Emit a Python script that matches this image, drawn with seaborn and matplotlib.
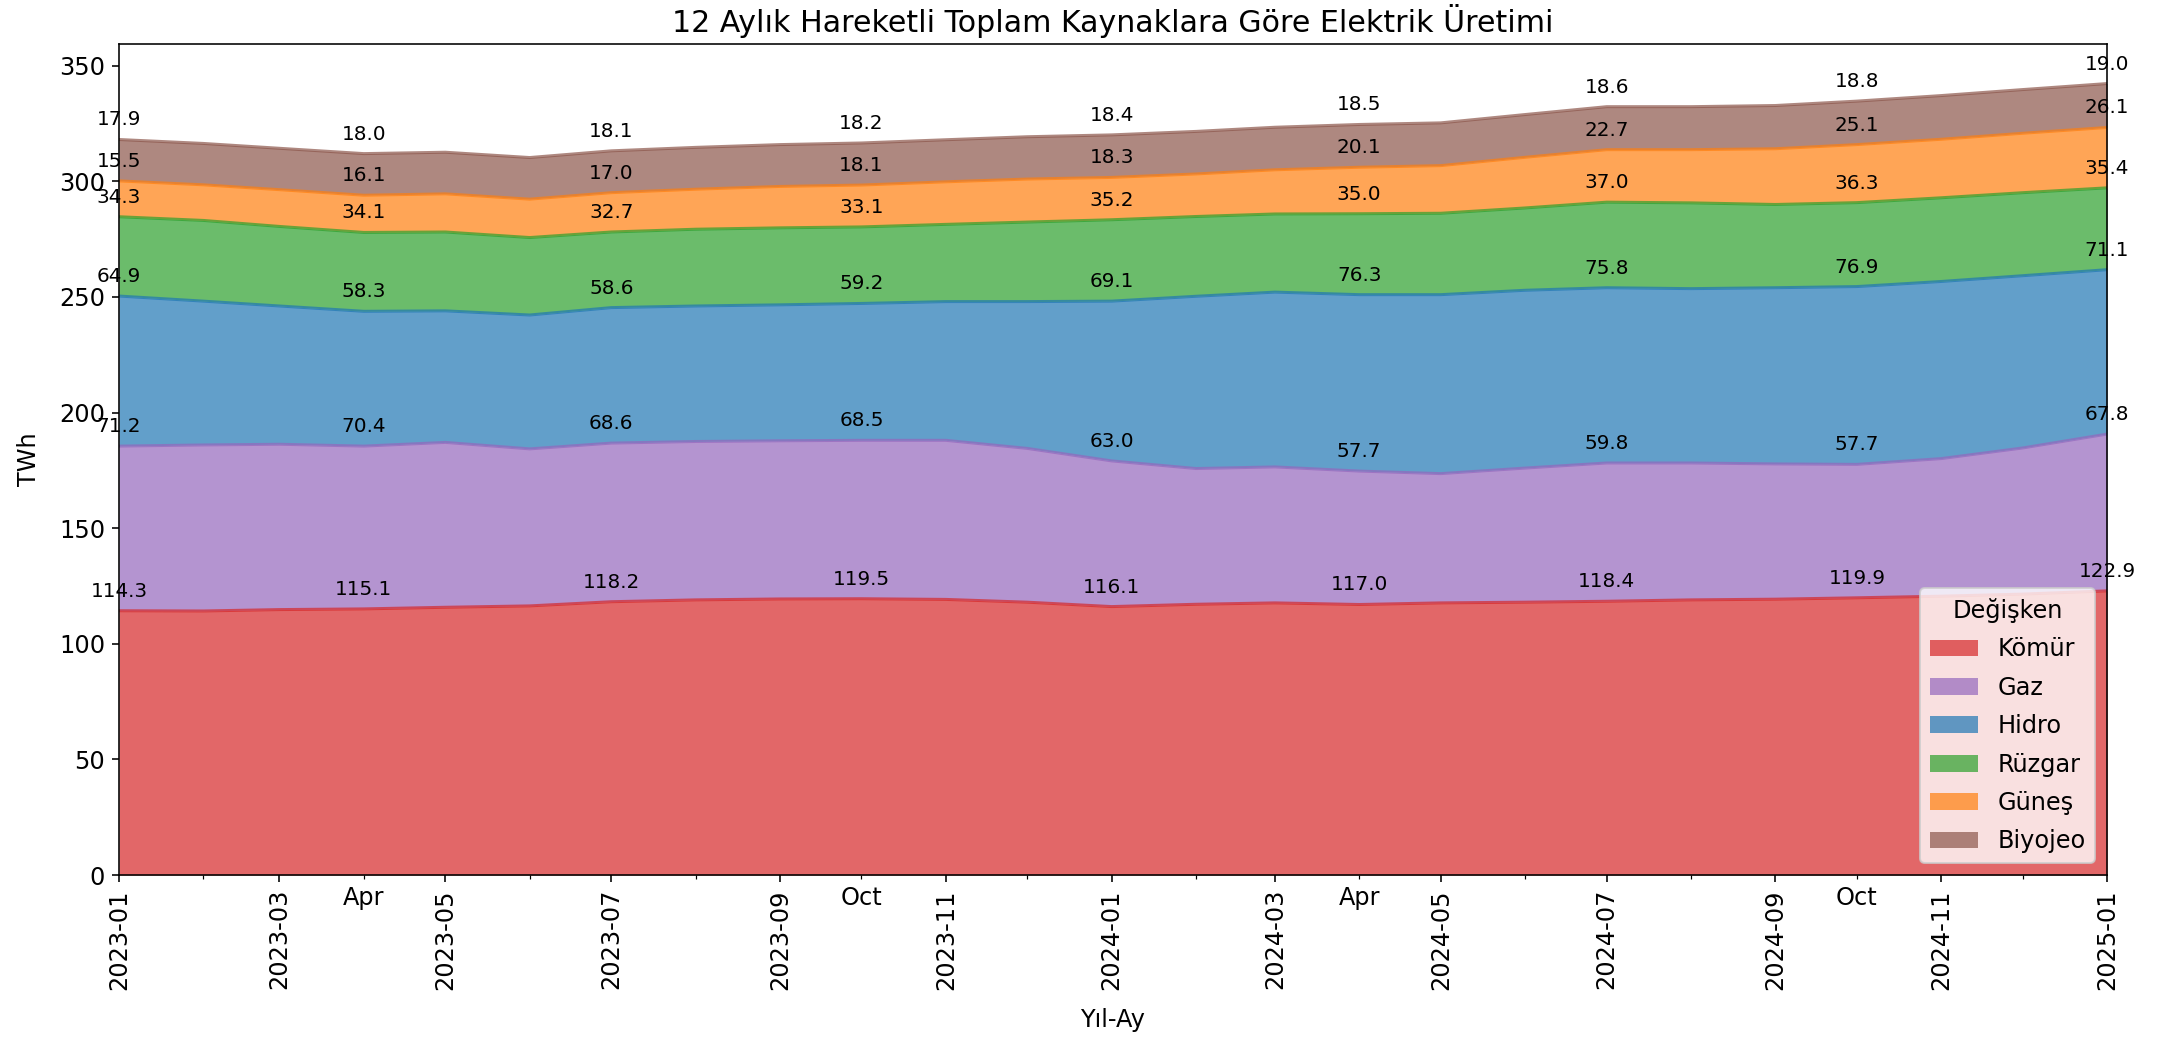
import matplotlib
matplotlib.use("Agg")
import matplotlib.pyplot as plt
import matplotlib.dates as mdates
from matplotlib.ticker import FuncFormatter
import seaborn as sns
import numpy as np
import pandas as pd

# monthly 12-month rolling totals, TWh (2023-01 .. 2025-01)
months = pd.date_range("2023-01-01", "2025-01-01", freq="MS")

komur = [114.3, 114.2, 114.8, 115.1, 115.8, 116.4, 118.2, 119.0, 119.4, 119.5, 119.2, 118.0, 116.1,
         117.1, 117.7, 117.0, 117.7, 118.0, 118.4, 119.0, 119.3, 119.9, 120.6, 121.5, 122.9]
gaz = [71.2, 71.8, 71.5, 70.4, 71.3, 67.9, 68.6, 68.5, 68.4, 68.5, 68.8, 66.5, 63.0,
       58.7, 58.8, 57.7, 55.9, 58.0, 59.8, 59.2, 58.5, 57.7, 59.5, 63.2, 67.8]
hidro = [64.9, 62.2, 59.8, 58.3, 56.9, 57.9, 58.6, 58.6, 58.8, 59.2, 60.0, 63.5, 69.1,
         74.5, 75.6, 76.3, 77.4, 76.9, 75.8, 75.4, 76.2, 76.9, 76.6, 74.5, 71.1]
ruzgar = [34.3, 34.9, 34.4, 34.1, 34.1, 33.5, 32.7, 33.2, 33.3, 33.1, 33.4, 34.4, 35.2,
          34.5, 33.8, 35.0, 35.2, 35.6, 37.0, 37.1, 36.0, 36.3, 36.2, 35.9, 35.4]
gunes = [15.5, 15.4, 15.9, 16.1, 16.5, 16.6, 17.0, 17.3, 17.9, 18.1, 18.4, 18.6, 18.3,
         18.4, 19.1, 20.1, 20.6, 21.9, 22.7, 23.0, 24.1, 25.1, 25.3, 25.7, 26.1]
biyojeo = [17.9, 17.9, 17.9, 18.0, 18.0, 18.0, 18.1, 18.1, 18.1, 18.2, 18.2, 18.3, 18.4,
           18.4, 18.4, 18.5, 18.5, 18.5, 18.6, 18.6, 18.7, 18.8, 18.9, 18.9, 19.0]

sources = ["Kömür", "Gaz", "Hidro", "Rüzgar", "Güneş", "Biyojeo"]

df = pd.DataFrame({"Kömür": komur, "Gaz": gaz, "Hidro": hidro,
                   "Rüzgar": ruzgar, "Güneş": gunes, "Biyojeo": biyojeo}, index=months)

tab = sns.color_palette("tab10")
colors = [tab[3], tab[4], tab[0], tab[2], tab[1], tab[5]]

plt.rcParams["font.size"] = 12

fig = plt.figure(figsize=(2164 / 144, 1037 / 144), dpi=144)
ax = fig.add_axes([0.055, 0.1562, 0.9187, 0.8014])

lower = np.zeros(len(df))
for name, c in zip(sources, colors):
    upper = lower + df[name].values
    ax.plot(df.index, upper, color=c, alpha=0.7, lw=1.5)
    ax.fill_between(df.index, lower, upper, color=c, alpha=0.7, lw=0, label=name)
    # labels every 3 months
    for i in range(0, len(df), 3):
        ax.annotate(f"{df[name].values[i]:.1f}", (df.index[i], upper[i]),
                    xytext=(0, 5), textcoords="offset points",
                    ha="center", va="bottom", fontsize=10)
    lower = upper

ax.set_xlim(df.index[0], df.index[-1])
ax.set_ylim(0, lower.max() * 1.05)

ax.xaxis.set_major_locator(mdates.MonthLocator(bymonth=[1, 3, 5, 7, 9, 11]))
ax.xaxis.set_major_formatter(mdates.DateFormatter("%Y-%m"))
ax.xaxis.set_minor_locator(mdates.MonthLocator())


def minor_fmt(x, pos):
    d = mdates.num2date(x)
    return d.strftime("%b") if d.month in (4, 10) else ""


ax.xaxis.set_minor_formatter(FuncFormatter(minor_fmt))
plt.setp(ax.get_xticklabels(which="major"), rotation=90)

ax.set_title("12 Aylık Hareketli Toplam Kaynaklara Göre Elektrik Üretimi", fontsize=15)
ax.set_xlabel("Yıl-Ay", labelpad=9)
ax.set_ylabel("TWh", labelpad=9)
ax.legend(title="Değişken", loc="lower right", labelspacing=0.6)

fig.savefig("out.png", dpi=144)
